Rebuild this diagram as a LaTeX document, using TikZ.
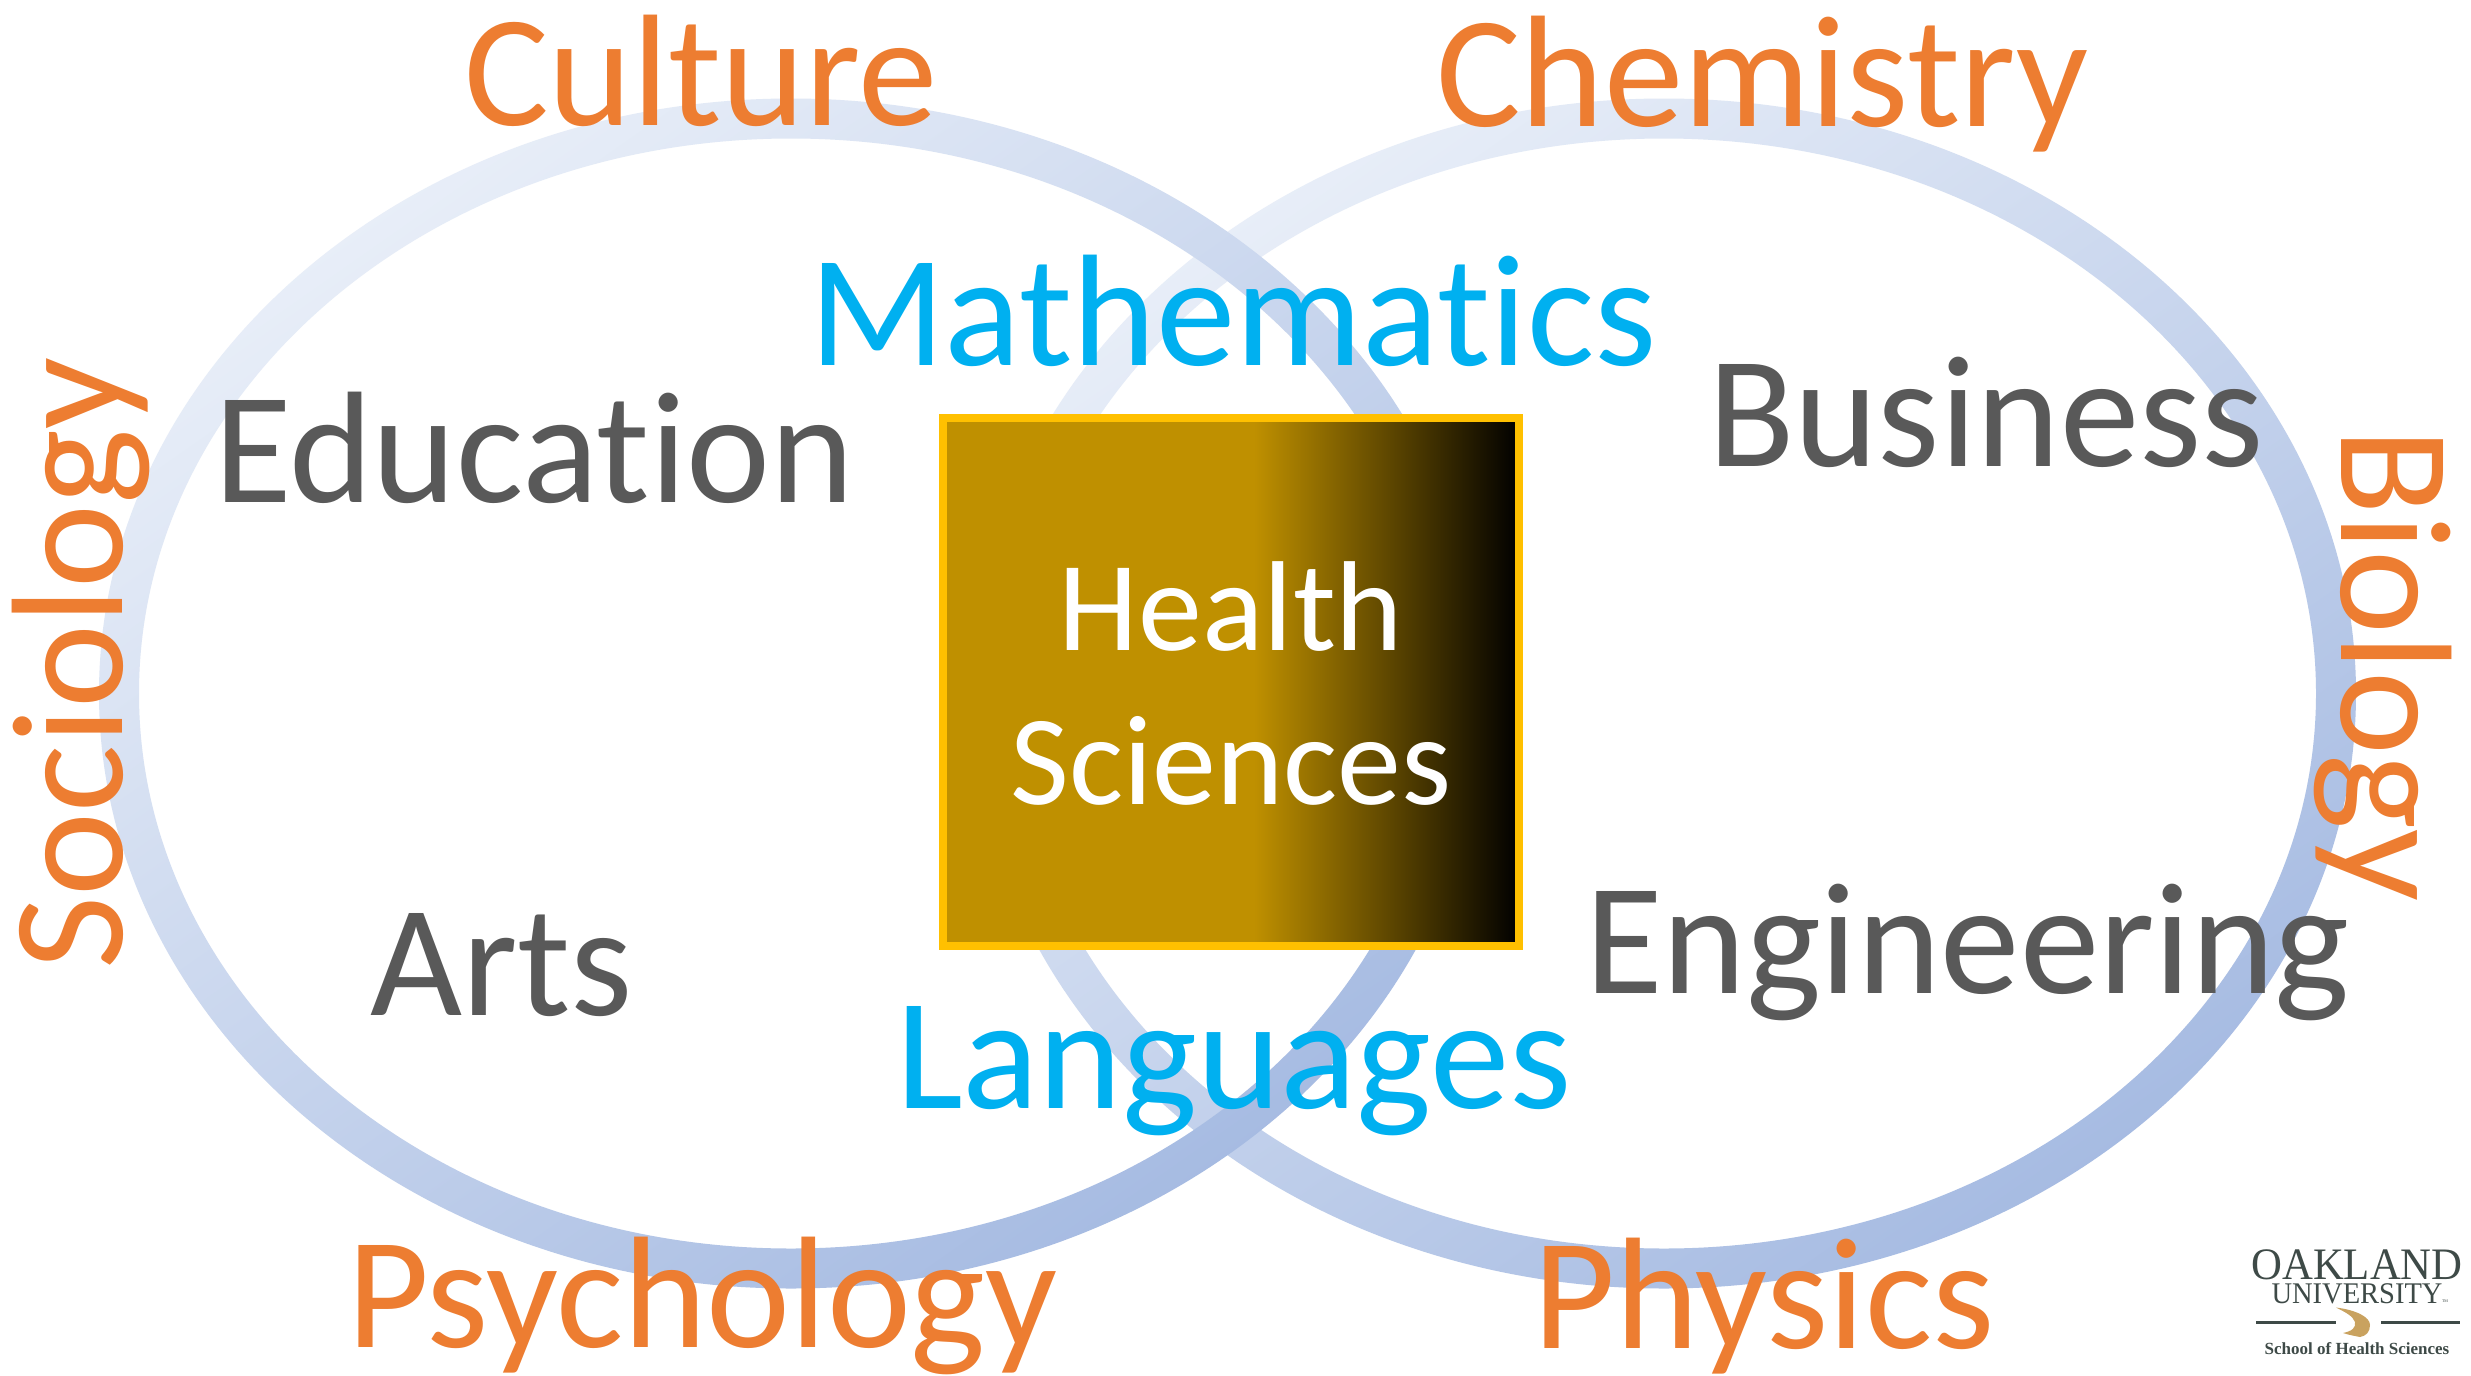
\documentclass[tikz,border=0pt]{standalone}
\usepackage{fontspec}
\setmainfont[Ligatures=NoCommon]{Carlito}
\newfontfamily\logofont{Liberation Serif}
\definecolor{ringlight}{HTML}{E8EEF8}
\definecolor{ringdark}{HTML}{A6BBE2}
\definecolor{orangetxt}{HTML}{ED7D31}
\definecolor{graytxt}{HTML}{595959}
\definecolor{bluetxt}{HTML}{00B0F0}
\definecolor{boxgold}{HTML}{BF9000}
\definecolor{boxedge}{HTML}{FFC000}
\definecolor{logoink}{HTML}{3E4A47}
\definecolor{logotan}{HTML}{C9A25F}
\pgfdeclarehorizontalshading{goldblack}{100bp}{color(0bp)=(boxgold); color(25bp)=(boxgold); color(52bp)=(boxgold); color(75bp)=(black); color(100bp)=(black)}
\tikzset{
  x=1pt,y=-1pt,
  ring/.style={even odd rule,top color=ringlight,bottom color=ringdark,shading angle=35},
  bigword/.style={inner sep=0pt,outer sep=0pt,anchor=base west,font=\fontsize{159}{190}\selectfont},
  outerword/.style={bigword,text=orangetxt},
  discipline/.style={bigword,text=graytxt},
  bridge/.style={bigword,text=bluetxt},
  centerword/.style={inner sep=0pt,anchor=base,text=white,font=\fontsize{128}{155}\selectfont},
  logotext/.style={inner sep=0pt,anchor=base,text=logoink},
}
\begin{document}
\begin{tikzpicture}
\useasboundingbox (0,0) rectangle (2471,1376);
\clip (0,0) rectangle (2471,1376);
\fill[white] (0,0) rectangle (2471,1376);
% rings
\shade[ring] (1664,693.5) ellipse [x radius=692,y radius=595] (1664,693.5) ellipse [x radius=652,y radius=555];
\shade[ring] (791,693.5) ellipse [x radius=692,y radius=595] (791,693.5) ellipse [x radius=652,y radius=555];
% centre box
\node[draw=boxedge,line width=8pt,shade,shading=goldblack,minimum width=576pt,minimum height=528pt,inner sep=0pt] (box) at (1231,682) {};
\node[centerword] (health) at (1231,650) {Health};
\node[centerword] (sciences) at (1231,804) {Sciences};
% words
\node[outerword] (culture) at (464,125) {Culture};
\node[outerword] (chemistry) at (1436,126) {Chemistry};
\node[outerword] (psychology) at (347,1347) {Psychology};
\node[outerword] (physics) at (1533,1348) {Physics};
\node[outerword,rotate=90] (sociology) at (122,969) {Sociology};
\node[outerword,rotate=-90] (biology) at (2341,428) {Biology};
\node[bridge] (math) at (809,365) {Mathematics};
\node[bridge] (lang) at (896,1108) {Languages};
\node[discipline] (education) at (214,502) {Education};
\node[discipline] (business) at (1708,466) {Business};
\node[discipline] (arts) at (370,1015) {Arts};
\node[discipline] (engineering) at (1585,993) {Engineering};
% logo
\node[logotext,xscale=.95,font=\logofont\fontsize{45}{50}\selectfont] (oakland) at (2357,1279) {OAKLAND};
\node[logotext,xscale=.95,font=\logofont\fontsize{30}{34}\selectfont] (university) at (2357,1303) {UNIVERSITY};
\node[logotext,font=\logofont\fontsize{4}{5}\selectfont] (tm) at (2445,1302) {TM};
\node[logotext,font=\logofont\bfseries\fontsize{17}{20}\selectfont] (school) at (2357,1354) {School of Health Sciences};
\fill[logoink] (2256,1320.5) rectangle (2336,1323.5);
\fill[logoink] (2381,1320.5) rectangle (2460,1323.5);
\fill[logotan] (2336,1307.5) .. controls (2356,1310) and (2370,1317) .. (2370,1325) .. controls (2370,1332) and (2366,1336) .. (2360,1337) .. controls (2355,1336) and (2349,1335) .. (2343,1333) .. controls (2352,1331) and (2356,1328) .. (2355,1322) .. controls (2353,1316) and (2345,1312) .. (2336,1307.5) -- cycle;
\end{tikzpicture}
\end{document}
